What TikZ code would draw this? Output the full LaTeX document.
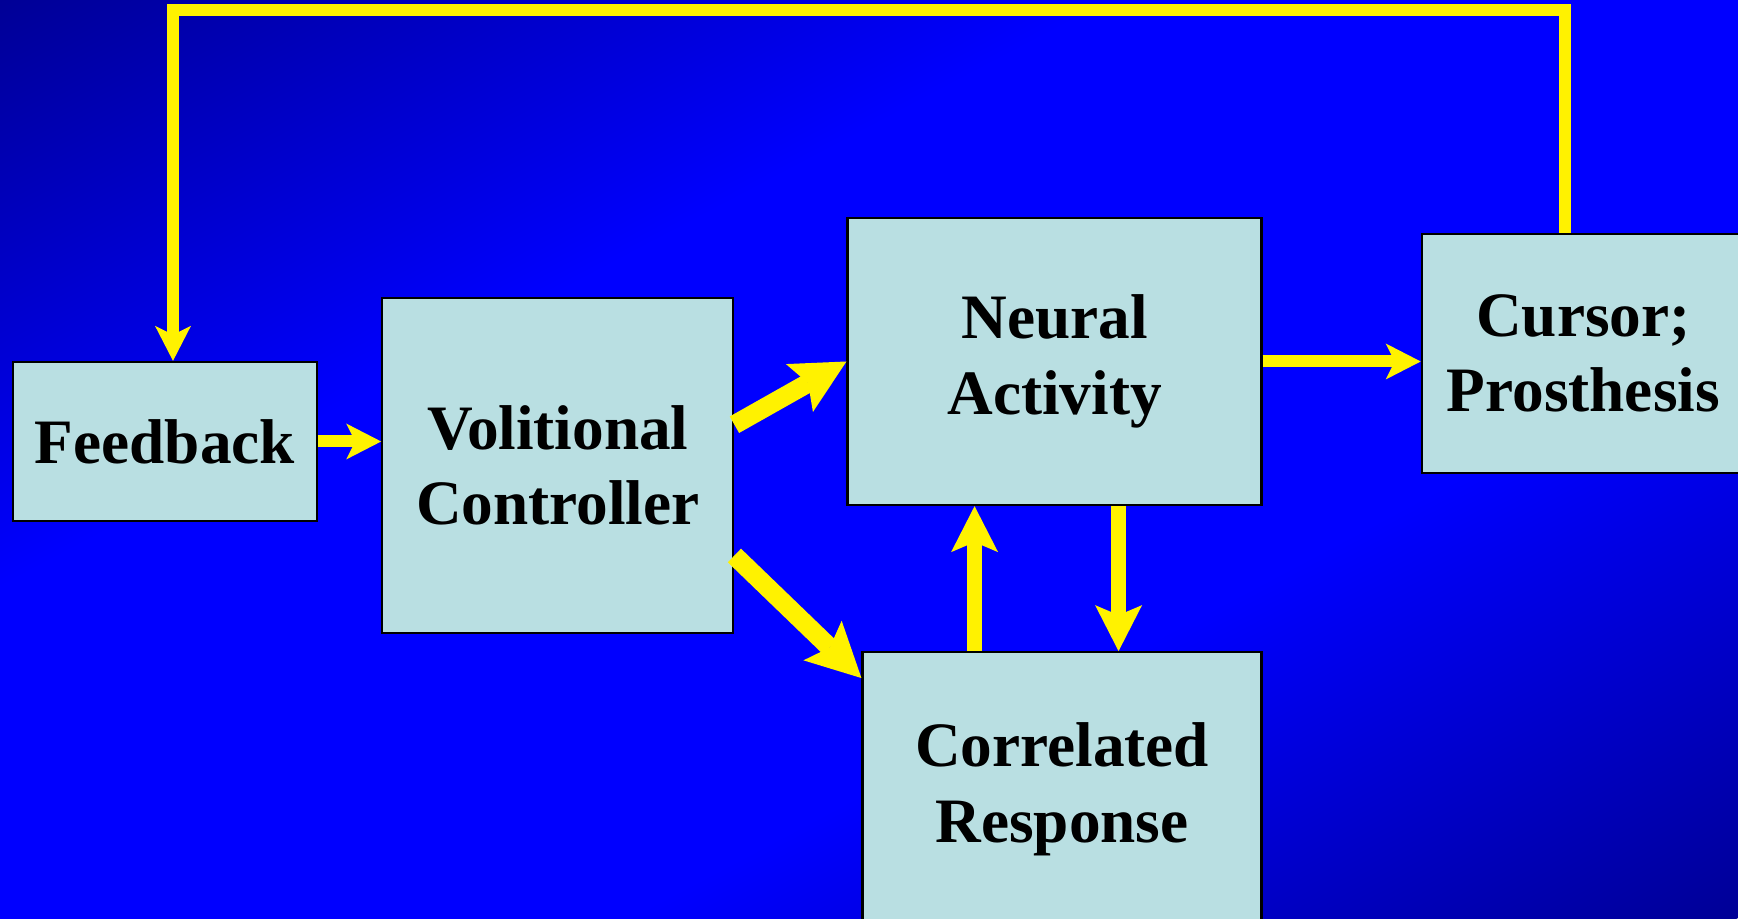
\documentclass[tikz,border=0pt]{standalone}
\usepackage{fontspec}
\setmainfont{Liberation Serif}
\usetikzlibrary{positioning,arrows.meta}

\definecolor{slidedark}{RGB}{0,0,150}
\definecolor{slideblue}{RGB}{0,0,255}
\definecolor{boxcyan}{RGB}{185,223,226}

% dark corners, bright band across the middle
\pgfdeclarehorizontalshading{slidebg}{100bp}{color(0bp)=(slidedark); color(25bp)=(slidedark); color(41bp)=(slideblue); color(59bp)=(slideblue); color(75bp)=(slidedark); color(100bp)=(slidedark)}

\begin{document}
\begin{tikzpicture}[
    block/.style={draw=black, line width=0.65pt, fill=boxcyan, align=center, inner sep=0pt, font=\fontsize{18}{21.5}\selectfont\bfseries},
    arrow/.style={draw=yellow, line width=0.12cm, -{Stealth[length=0.35cm, width=0.36cm, inset=0.09cm, line width=0pt]}},
    bigarrow/.style={arrow, line width=0.15cm, -{Stealth[length=0.46cm, width=0.47cm, inset=0.10cm, line width=0pt]}},
    diagarrow/.style={arrow, line width=0.19cm, -{Stealth[length=0.54cm, width=0.55cm, inset=0.10cm, line width=0pt]}}
]
\useasboundingbox (0,0) rectangle (17.38,9.18);
% background: gradient runs from the top left corner to the bottom right one
\begin{scope}
  \clip (0,0) rectangle (17.38,9.18);
  \begin{scope}[transform canvas={cm={34.76,0,17.38,9.18,(0,9.18)}}]
    \shade[shading=slidebg] (0,-1.02) rectangle (1,0.02);
  \end{scope}
\end{scope}

\node[block, minimum width=3.04cm, minimum height=1.59cm] (fb) at (1.65,4.765) {Feedback};
\node[block, minimum width=3.51cm, minimum height=3.35cm, right=0.63cm of fb, yshift=-0.24cm] (vc) {Volitional\\Controller};
\node[block, minimum width=4.14cm, minimum height=2.87cm, right=1.12cm of vc, yshift=1.04cm] (na) {Neural\\Activity};
\node[block, minimum width=3.23cm, minimum height=2.39cm, right=1.58cm of na, yshift=0.08cm] (cp) {Cursor;\\Prosthesis};
\node[block, minimum width=3.99cm, minimum height=2.74cm, below=1.45cm of na.south east, anchor=north east] (cr) {Correlated\\Response};

\draw[arrow] (fb.east) -- (fb.east -| vc.west);
\draw[diagarrow] (vc.13) -- (na.west);
\draw[diagarrow] (vc.-27) -- (cr.151);

\coordinate (up) at ([xshift=-0.875cm]cr.north);
\coordinate (down) at ([xshift=0.64cm]na.south);
\draw[bigarrow] (up) -- (up |- na.south);
\draw[bigarrow] (down) -- (down |- cr.north);

\draw[arrow] (na.east) -- (na.east -| cp.west);

% feedback loop over the top
\coordinate (loopA) at ([xshift=-0.185cm]cp.north);
\coordinate (loopB) at ([xshift=0.08cm]fb.north);
\coordinate (loopY) at (0,9.08);
\draw[arrow] (loopA) -- (loopA |- loopY) -- (loopB |- loopY) -- (loopB);
\end{tikzpicture}
\end{document}
